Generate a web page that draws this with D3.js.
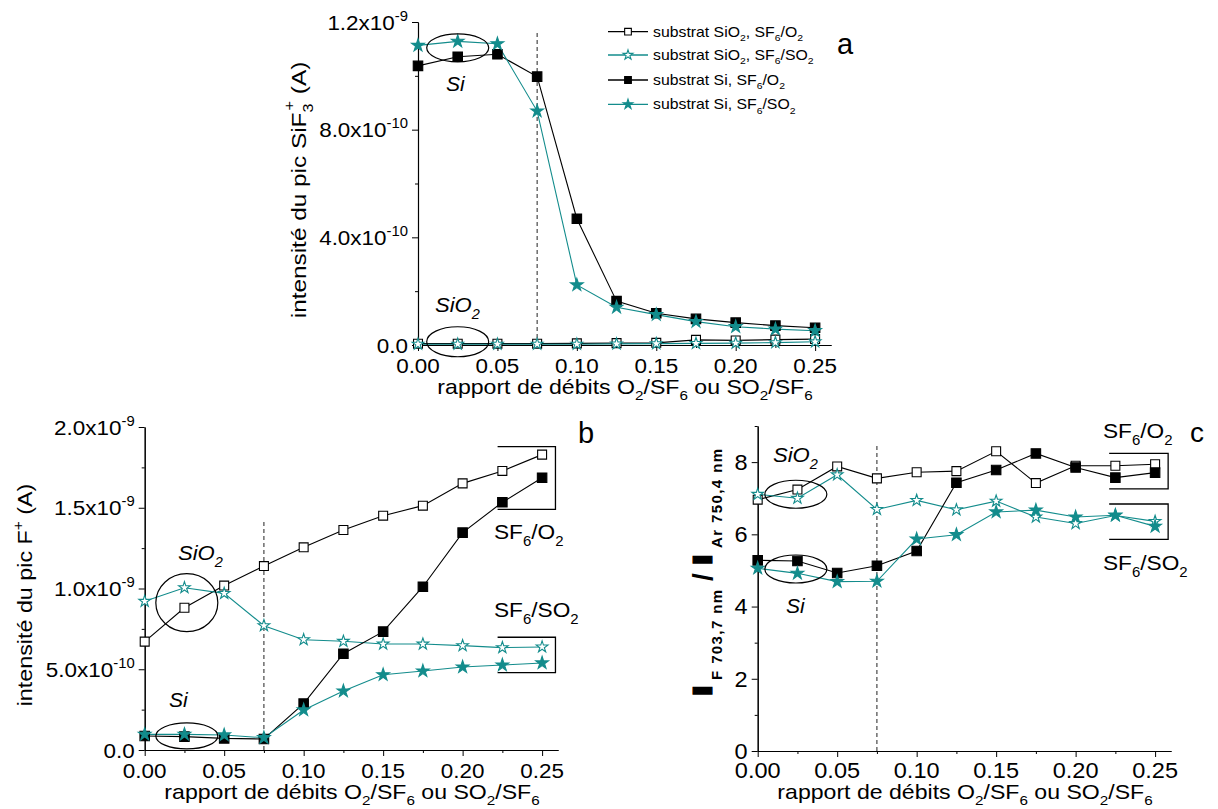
<!DOCTYPE html>
<html><head><meta charset="utf-8">
<script src="https://cdn.jsdelivr.net/npm/d3@7"></script>
<style>
body{margin:0;background:#fff}
svg{display:block}
text{font-family:"Liberation Sans",Arial,sans-serif;fill:#000}
</style>
</head><body>
<svg id="chart" width="1218" height="809"></svg>
<script>
// ---------- DATA ----------
const xRatio = [0, 0.025, 0.05, 0.075, 0.1, 0.125, 0.15, 0.175, 0.2, 0.225, 0.25];
const xTicks = [0, 0.05, 0.10, 0.15, 0.20, 0.25];
const xTickLabels = ["0.00", "0.05", "0.10", "0.15", "0.20", "0.25"];
const xMinor = [0.025, 0.075, 0.125, 0.175, 0.225];

// panel a : SiF3+ peak intensity (units of 1e-10 A)
const aSiO2_O2  = [0.05, 0.05, 0.05, 0.05, 0.06, 0.07, 0.08, 0.19, 0.17, 0.20, 0.22];
const aSiO2_SO2 = [0.03, 0.03, 0.03, 0.03, 0.03, 0.04, 0.05, 0.06, 0.07, 0.09, 0.12];
const aSi_O2    = [10.37, 10.71, 10.80, 9.97, 4.69, 1.63, 1.18, 0.97, 0.83, 0.72, 0.64];
const aSi_SO2   = [11.13, 11.28, 11.19, 8.69, 2.23, 1.40, 1.13, 0.87, 0.68, 0.59, 0.53];
const aYTicks = [0, 4, 8, 12];
const aYLabels = [["0.0", ""], ["4.0x10", "-10"], ["8.0x10", "-10"], ["1.2x10", "-9"]];
const aYMinor = [2, 6, 10];

// panel b : F+ peak intensity (units of 1e-10 A)
const bSiO2_O2  = [6.71, 8.81, 10.18, 11.39, 12.55, 13.62, 14.51, 15.13, 16.51, 17.28, 18.29];
const bSiO2_SO2 = [9.21, 10.05, 9.70, 7.70, 6.83, 6.73, 6.56, 6.56, 6.46, 6.34, 6.38];
const bSi_O2    = [0.87, 0.83, 0.72, 0.68, 2.87, 5.96, 7.33, 10.11, 13.46, 15.34, 16.86];
const bSi_SO2   = [0.97, 0.97, 0.93, 0.76, 2.48, 3.65, 4.66, 4.89, 5.14, 5.26, 5.39];
const bYTicks = [0, 5, 10, 15, 20];
const bYLabels = [["0.0", ""], ["5.0x10", "-10"], ["1.0x10", "-9"], ["1.5x10", "-9"], ["2.0x10", "-9"]];
const bYMinor = [2.5, 7.5, 12.5, 17.5];

// panel c : I(F 703.7 nm) / I(Ar 750.4 nm)
const cSiO2_O2  = [6.96, 7.24, 7.88, 7.55, 7.72, 7.75, 8.30, 7.42, 7.90, 7.90, 7.94];
const cSiO2_SO2 = [7.11, 7.00, 7.65, 6.69, 6.94, 6.68, 6.92, 6.48, 6.30, 6.52, 6.36];
const cSi_O2    = [5.28, 5.26, 4.93, 5.13, 5.54, 7.43, 7.78, 8.24, 7.85, 7.57, 7.71];
const cSi_SO2   = [5.06, 4.92, 4.69, 4.70, 5.87, 5.99, 6.62, 6.67, 6.48, 6.53, 6.22];
const cYTicks = [0, 2, 4, 6, 8];
const cYLabels = [["0", ""], ["2", ""], ["4", ""], ["6", ""], ["8", ""]];
const cYMinor = [1, 3, 5, 7, 9];

const seriesNames = [
  [["substrat SiO","n"],["2","sub"],[", SF","n"],["6","sub"],["/O","n"],["2","sub"]],
  [["substrat SiO","n"],["2","sub"],[", SF","n"],["6","sub"],["/SO","n"],["2","sub"]],
  [["substrat Si, SF","n"],["6","sub"],["/O","n"],["2","sub"]],
  [["substrat Si, SF","n"],["6","sub"],["/SO","n"],["2","sub"]]
];
const xTitleParts = [["rapport de débits O","n"],["2","sub"],["/SF","n"],["6","sub"],[" ou SO","n"],["2","sub"],["/SF","n"],["6","sub"]];

// ---------- STYLE ----------
const TEAL = "#138c8c";
const styles = [
  {color: "#000", symbol: d3.symbolSquare, size: 80, fill: "#fff"},
  {color: TEAL, symbol: d3.symbolStar, size: 42, fill: "#fff"},
  {color: "#000", symbol: d3.symbolSquare, size: 90, fill: "#000"},
  {color: TEAL, symbol: d3.symbolStar, size: 50, fill: TEAL}
];

const svg = d3.select("#chart");

function rich(t, parts, size) {
  let shift = 0;
  parts.forEach(([s, type]) => {
    const target = type === "sub" ? size * 0.32 : type === "sup" ? -size * 0.42 : 0;
    const ts = t.append("tspan").text(s).attr("dy", target - shift);
    if (type !== "n") ts.attr("font-size", size * 0.66);
    shift = target;
  });
  return t;
}
function stext(g, x, y, size, sx, anchor, rot) {
  return g.append("text")
    .attr("transform", `translate(${x},${y})${rot ? " rotate(-90)" : ""} scale(${sx},1)`)
    .attr("font-size", size).attr("text-anchor", anchor || "start");
}

function panel(cfg) {
  const g = svg.append("g");
  const x = d3.scaleLinear().domain([0, 0.26]).range([cfg.x0, cfg.x1]);
  const y = d3.scaleLinear().domain(cfg.yDomain).range([cfg.y0, cfg.y1]);

  g.append("g").attr("transform", `translate(0,${cfg.y0})`)
    .call(d3.axisBottom(x).tickValues(xTicks).tickSize(6).tickSizeOuter(0).tickFormat(""));
  g.append("g").attr("transform", `translate(0,${cfg.y0})`)
    .call(d3.axisBottom(x).tickValues(xMinor).tickSize(3).tickSizeOuter(0).tickFormat(""));
  g.append("g").attr("transform", `translate(${cfg.x0},0)`)
    .call(d3.axisLeft(y).tickValues(cfg.yTicks).tickSize(6).tickSizeOuter(0).tickFormat(""));
  g.append("g").attr("transform", `translate(${cfg.x0},0)`)
    .call(d3.axisLeft(y).tickValues(cfg.yMinor).tickSize(3).tickSizeOuter(0).tickFormat(""));
  g.selectAll(".domain").attr("stroke", "#000").attr("stroke-width", 1.1);
  g.selectAll(".tick line").attr("stroke", "#000");

  xTicks.forEach((v, i) => {
    stext(g, x(v), cfg.y0 + cfg.xTickDy, cfg.tickFont, 1.07, "middle").text(xTickLabels[i]);
  });
  cfg.yTicks.forEach((v, i) => {
    const [m, e] = cfg.yLabels[i];
    const t = stext(g, cfg.x0 - 10, y(v) + cfg.tickFont * 0.36, cfg.tickFont, 1.07, "end");
    if (e) rich(t, [[m, "n"], [e, "sup"]], cfg.tickFont); else t.text(m);
  });

  g.append("line").attr("x1", x(0.075)).attr("x2", x(0.075))
    .attr("y1", y(0)).attr("y2", y(cfg.dashTop))
    .attr("stroke", "#222").attr("stroke-width", 1).attr("stroke-dasharray", "4,3");

  const line = d3.line().x((d, i) => x(xRatio[i])).y(d => y(d));
  cfg.series.forEach((s, k) => {
    g.append("path").datum(s).attr("d", line).attr("fill", "none")
      .attr("stroke", styles[k].color).attr("stroke-width", 1.1);
  });
  cfg.series.forEach((s, k) => {
    const st = styles[k];
    g.selectAll(null).data(s).enter().append("path")
      .attr("transform", (d, i) => `translate(${x(xRatio[i])},${y(d)})`)
      .attr("d", d3.symbol().type(st.symbol).size(st.size))
      .attr("fill", st.fill).attr("stroke", st.color).attr("stroke-width", 1.1);
  });

  cfg.ellipses.forEach(e => {
    g.append("ellipse").attr("cx", x(e.x)).attr("cy", y(e.y)).attr("rx", e.rx).attr("ry", e.ry)
      .attr("fill", "none").attr("stroke", "#000").attr("stroke-width", 1.2);
  });
  (cfg.brackets || []).forEach(b => {
    g.append("path").attr("d",
      `M${x(b.x0)},${y(b.yTop)}H${x(b.x1)}V${y(b.yBot)}H${x(b.x0)}`)
      .attr("fill", "none").attr("stroke", "#000").attr("stroke-width", 1.3);
  });
  cfg.labels.forEach(l => {
    const t = stext(g, l.px, l.py, l.size, l.sx || 1, l.anchor);
    if (l.italic) t.attr("font-style", "italic");
    rich(t, l.parts, l.size);
  });

  rich(stext(g, cfg.xTitleX, cfg.xTitleY, 20, 1.155, "middle"), xTitleParts, 20);
  return {x, y, g};
}

// ---------- PANEL A ----------
panel({
  x0: 418, x1: 831, y0: 345, y1: 22, yDomain: [0, 12],
  yTicks: aYTicks, yLabels: aYLabels, yMinor: aYMinor,
  tickFont: 21, xTickDy: 28, dashTop: 11.62,
  series: [aSiO2_O2, aSiO2_SO2, aSi_O2, aSi_SO2],
  ellipses: [{x: 0.025, y: 11.04, rx: 31, ry: 14}, {x: 0.025, y: 0.12, rx: 31, ry: 15}],
  labels: [
    {px: 446, py: 91, size: 21, italic: true, parts: [["Si","n"]]},
    {px: 435, py: 312, size: 21, italic: true, sx: 1.05, parts: [["SiO","n"],["2","sub"]]},
    {px: 837, py: 54, size: 29, parts: [["a","n"]]}
  ],
  xTitleX: 625, xTitleY: 394
});
{
  const t = stext(svg, 306, 190, 21, 1.16, "middle", true);
  t.append("tspan").text("intensité du pic SiF");
  t.append("tspan").text("3").attr("font-size", 14).attr("dy", 7);
  t.append("tspan").text("+").attr("font-size", 14).attr("dy", -19).attr("dx", -6);
  t.append("tspan").text(" (A)").attr("dy", 12);
}
{
  const rows = [31.7, 55, 80, 104.3];
  seriesNames.forEach((parts, k) => {
    const st = styles[k];
    const gy = rows[k];
    svg.append("line").attr("x1", 608).attr("x2", 648).attr("y1", gy).attr("y2", gy)
      .attr("stroke", st.color).attr("stroke-width", 1.3);
    svg.append("path").attr("transform", `translate(628,${gy})`)
      .attr("d", d3.symbol().type(st.symbol).size(st.symbol === d3.symbolStar ? 30 : 45))
      .attr("fill", st.fill).attr("stroke", st.color).attr("stroke-width", 1.1);
    rich(stext(svg, 653, gy + 5, 14, 1.13, "start"), parts, 14);
  });
}

// ---------- PANEL B ----------
panel({
  x0: 144.7, x1: 558, y0: 750, y1: 427, yDomain: [0, 20],
  yTicks: bYTicks, yLabels: bYLabels, yMinor: bYMinor,
  tickFont: 21, xTickDy: 28, dashTop: 14.2,
  series: [bSiO2_O2, bSiO2_SO2, bSi_O2, bSi_SO2],
  ellipses: [{x: 0.0265, y: 9.12, rx: 31, ry: 29}, {x: 0.0265, y: 0.87, rx: 31, ry: 13}],
  brackets: [{x0: 0.222, x1: 0.2584, yTop: 18.78, yBot: 14.9}, {x0: 0.222, x1: 0.2584, yTop: 6.98, yBot: 4.79}],
  labels: [
    {px: 178, py: 560, size: 21, italic: true, sx: 1.05, parts: [["SiO","n"],["2","sub"]]},
    {px: 169, py: 707, size: 21, italic: true, parts: [["Si","n"]]},
    {px: 494, py: 539, size: 21, sx: 1.08, parts: [["SF","n"],["6","sub"],["/O","n"],["2","sub"]]},
    {px: 494, py: 617, size: 21, sx: 1.08, parts: [["SF","n"],["6","sub"],["/SO","n"],["2","sub"]]},
    {px: 578, py: 443, size: 29, parts: [["b","n"]]}
  ],
  xTitleX: 352, xTitleY: 799
});
{
  const t = stext(svg, 32, 595, 21, 1.11, "middle", true);
  t.append("tspan").text("intensité du pic F");
  t.append("tspan").text("+").attr("font-size", 14).attr("dy", -9);
  t.append("tspan").text(" (A)").attr("dy", 9);
}

// ---------- PANEL C ----------
panel({
  x0: 757.7, x1: 1171, y0: 751, y1: 426, yDomain: [0, 9],
  yTicks: cYTicks, yLabels: cYLabels, yMinor: cYMinor,
  tickFont: 22, xTickDy: 27, dashTop: 8.5,
  series: [cSiO2_O2, cSiO2_SO2, cSi_O2, cSi_SO2],
  ellipses: [{x: 0.024, y: 7.11, rx: 31, ry: 14}, {x: 0.024, y: 5.04, rx: 31, ry: 14}],
  brackets: [{x0: 0.2211, x1: 0.2582, yTop: 8.24, yBot: 7.26}, {x0: 0.2211, x1: 0.2582, yTop: 6.84, yBot: 5.86}],
  labels: [
    {px: 773, py: 462, size: 21, italic: true, sx: 1.05, parts: [["SiO","n"],["2","sub"]]},
    {px: 786, py: 613, size: 21, italic: true, parts: [["Si","n"]]},
    {px: 1103, py: 438, size: 21, sx: 1.08, parts: [["SF","n"],["6","sub"],["/O","n"],["2","sub"]]},
    {px: 1103, py: 570, size: 21, sx: 1.08, parts: [["SF","n"],["6","sub"],["/SO","n"],["2","sub"]]},
    {px: 1190, py: 442, size: 28, parts: [["c","n"]]}
  ],
  xTitleX: 965, xTitleY: 799
});
{
  const g = svg.append("g").attr("transform", "translate(712,697) rotate(-90)");
  g.append("text").attr("x", 0).attr("y", 0).attr("transform", "scale(1.6,1)")
    .attr("font-size", 28).attr("font-weight", "bold").attr("stroke", "#000").attr("stroke-width", 1).text("I");
  g.append("text").attr("x", 17).attr("y", 10).attr("font-size", 15).attr("font-weight", "bold")
    .attr("letter-spacing", 1.4).text("F 703,7 nm");
  g.append("text").attr("x", 116).attr("y", 0).attr("font-size", 28).attr("font-weight", "bold").text("/");
  g.append("text").attr("x", 131 / 1.6).attr("y", 0).attr("transform", "scale(1.6,1)")
    .attr("font-size", 28).attr("font-weight", "bold").attr("stroke", "#000").attr("stroke-width", 1).text("I");
  g.append("text").attr("x", 149).attr("y", 10).attr("font-size", 15).attr("font-weight", "bold")
    .attr("letter-spacing", 1.4).text("Ar 750,4 nm");
}
</script>
</body></html>
